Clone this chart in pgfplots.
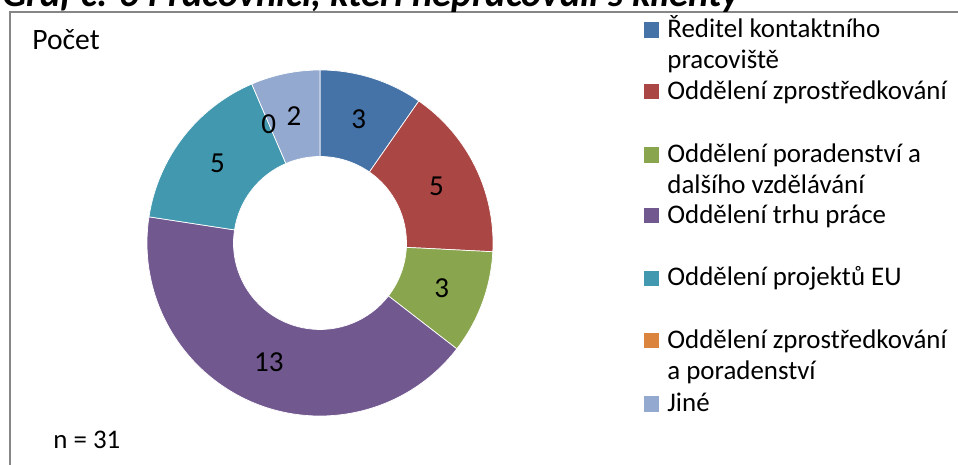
\documentclass[border=0pt]{standalone}
\usepackage{fontspec}
\setmainfont{Carlito}
\usepackage{pgfplots}
\usepackage{pgfplotstable}
\pgfplotsset{compat=1.18}
\definecolor{c1}{HTML}{4572A7}
\definecolor{c2}{HTML}{AA4643}
\definecolor{c3}{HTML}{89A54E}
\definecolor{c4}{HTML}{71588F}
\definecolor{c5}{HTML}{4198AF}
\definecolor{c6}{HTML}{DB843D}
\definecolor{c7}{HTML}{93A9CF}
\definecolor{frame}{HTML}{868686}
\newcommand\legfont{\fontsize{13.45bp}{16bp}\selectfont}
\newcommand\labfont{\fontsize{14.5bp}{17bp}\selectfont}
\newcommand\cntfont{\fontsize{14.8bp}{17bp}\selectfont}
\newcommand\ttlfont{\fontsize{19.3bp}{22bp}\selectfont\bfseries\itshape}
\pgfplotstableread{
value col
3 c1
5 c2
3 c3
13 c4
5 c5
0 c6
2 c7
}\piedata
\begin{document}
\begin{tikzpicture}
\begin{axis}[
  hide axis, x=0.5bp, y=0.5bp,
  xmin=0, xmax=958, ymin=0, ymax=465, y dir=reverse,
  enlargelimits=false, clip=true,
]
\addplot[draw=none, forget plot] coordinates {(0,0) (958,465)};
\pgfplotsextra{
  \pgfplotstablegetrowsof{\piedata}
  \pgfmathtruncatemacro{\lastrow}{\pgfplotsretval-1}
  \gdef\total{0}
  \foreach \i in {0,...,\lastrow}{
    \pgfplotstablegetelem{\i}{value}\of{\piedata}
    \pgfmathsetmacro{\newtot}{\total+\pgfplotsretval}
    \xdef\total{\newtot}
  }
  \gdef\cum{0}
  \foreach \i in {0,...,\lastrow}{
    \pgfplotstablegetelem{\i}{value}\of{\piedata}\let\segval\pgfplotsretval
    \pgfplotstablegetelem{\i}{col}\of{\piedata}\let\segcol\pgfplotsretval
    \pgfmathsetmacro{\aone}{90-\cum/\total*360}
    \pgfmathsetmacro{\atwo}{90-(\cum+\segval)/\total*360}
    \ifdim\segval pt>0pt
      \fill[\segcol, draw=white, line width=0.35bp]
        (axis cs:{320+173*cos(\aone)},{243-173*sin(\aone)})
        arc[start angle=\aone, end angle=\atwo, radius=86.5bp]
        -- (axis cs:{320+86.5*cos(\atwo)},{243-86.5*sin(\atwo)})
        arc[start angle=\atwo, end angle=\aone, radius=43.25bp] -- cycle;
    \fi
    \pgfmathsetmacro{\newcum}{\cum+\segval}
    \xdef\cum{\newcum}
  }
  \gdef\cum{0}
  \foreach \i in {0,...,\lastrow}{
    \pgfplotstablegetelem{\i}{value}\of{\piedata}\let\segval\pgfplotsretval
    \pgfmathsetmacro{\amid}{90-(\cum+\segval/2)/\total*360}
    \node[font=\labfont, inner sep=0pt] at (axis cs:{320+129.75*cos(\amid)},{243-129.75*sin(\amid)}) {\segval};
    \pgfmathsetmacro{\newcum}{\cum+\segval}
    \xdef\cum{\newcum}
  }
  % legend
  \foreach \lc/\yy in {c1/37.7, c2/99.3, c3/162.7, c4/223.3, c5/286, c6/348.3, c7/411.7}{
    \fill[\lc] (axis cs:644,\yy-15.3) rectangle (axis cs:659,\yy);
  }
  \foreach \lt/\yy in {{Ředitel kontaktního}/37.7, {pracoviště}/68.3, {Oddělení zprostředkování}/99.3,
    {Oddělení poradenství a}/162.7, {dalšího vzdělávání}/193.3, {Oddělení trhu práce}/223.3,
    {Oddělení projektů EU}/286, {Oddělení zprostředkování}/348.3, {a poradenství}/380, {Jiné}/411.7}{
    \node[anchor=base west, font=\legfont, inner sep=0pt] at (axis cs:667,\yy) {\lt};
  }
}
% frame
\draw[frame, line width=1bp] (axis cs:9.5,480) -- (axis cs:9.5,12) -- (axis cs:970,12);
% title (cut off at the top)
\node[anchor=base west, font=\ttlfont, inner sep=0pt] at (axis cs:2,7) {Graf č. 6 Pracovníci, kteří nepracovali s klienty};
\node[anchor=base west, font=\cntfont, inner sep=0pt] at (axis cs:32,50) {Počet};
\node[anchor=base west, font=\legfont, inner sep=0pt] at (axis cs:53,449) {n = 31};
\end{axis}
\pgfresetboundingbox
\useasboundingbox (current axis.south west) rectangle (current axis.north east);
\end{tikzpicture}
\end{document}
